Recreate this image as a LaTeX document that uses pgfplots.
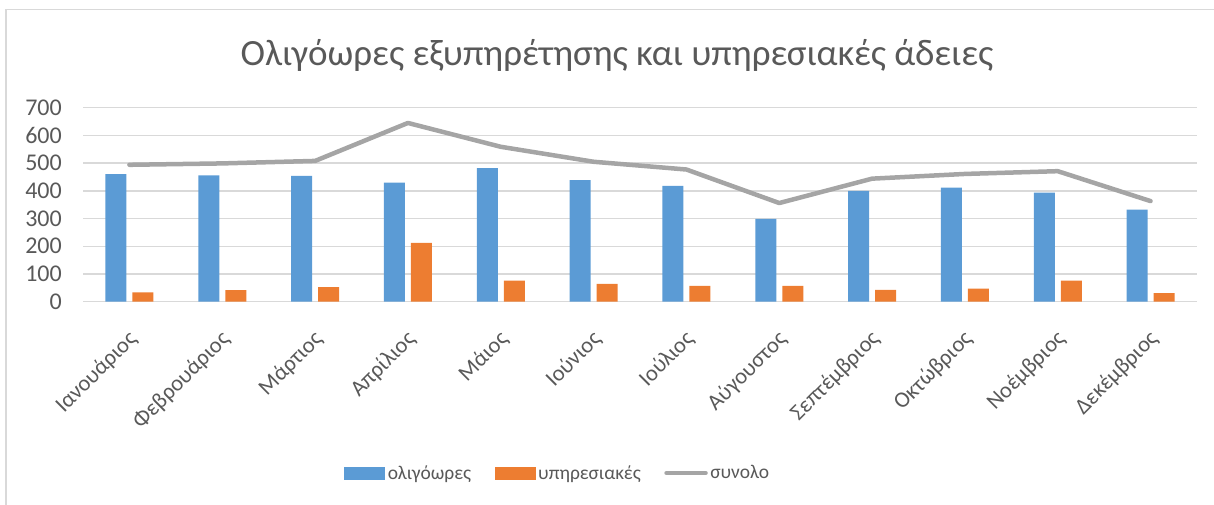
\documentclass[border=0pt]{standalone}
\usepackage{fontspec}
\setmainfont{Carlito}
\usepackage{pgfplots}
\pgfplotsset{compat=1.18}
\definecolor{cblue}{HTML}{5B9BD5}
\definecolor{corange}{HTML}{ED7D31}
\definecolor{cgray}{HTML}{A5A5A5}
\definecolor{ctext}{HTML}{595959}
\definecolor{cgrid}{HTML}{D9D9D9}
\begin{document}
\begin{tikzpicture}[x=1pt,y=1pt]
\useasboundingbox (0,0) rectangle (1214,504);
\draw[cgrid, line width=1.5pt] (6,-2) -- (6,494.5) -- (1216,494.5);
\node[text=ctext, font=\fontsize{37}{44}\selectfont] at (617,449) {Ολιγόωρες εξυπηρέτησης και υπηρεσιακές άδειες};
\begin{axis}[
  at={(83pt,202.3pt)}, anchor=south west,
  width=1114pt, height=194pt, scale only axis,
  xmin=-0.5, xmax=11.5, ymin=0, ymax=700,
  ytick={0,100,...,700},
  xtick={0,...,11},
  xticklabels={Ιανουάριος,Φεβρουάριος,Μάρτιος,Απρίλιος,Μάιος,Ιούνιος,Ιούλιος,Αύγουστος,Σεπτέμβριος,Οκτώβριος,Νοέμβριος,Δεκέμβριος},
  /pgf/number format/assume math mode=true,
  ymajorgrids, grid style={cgrid, line width=1.4pt},
  axis line style={draw=none}, major tick length=0pt,
  tick label style={text=ctext, font=\fontsize{24}{28}\selectfont},
  yticklabel style={inner sep=0pt, xshift=-21pt},
  xticklabel style={font=\fontsize{22.5}{27}\selectfont, inner sep=0pt, xshift=4pt, yshift=-34pt, rotate=45, anchor=east},
  ybar, bar width=21pt,
  legend columns=3,
  legend style={draw=none, at={(0.4264,-0.883)}, anchor=center,
    font=\fontsize{19.5}{23}\selectfont, text=ctext,
    nodes={inner sep=2.5pt},
    /tikz/every even column/.append style={column sep=21pt}},
]
\addplot[fill=cblue, draw=none, bar shift=-13.5pt,
  legend image code/.code={\fill[cblue] (0pt,-6.5pt) rectangle (41pt,6.5pt);}]
  coordinates {(0,460) (1,456) (2,454) (3,430) (4,482) (5,439) (6,418) (7,299) (8,400) (9,412) (10,394) (11,332)};
\addlegendentry{ολιγόωρες}
\addplot[fill=corange, draw=none, bar shift=13.5pt,
  legend image code/.code={\fill[corange] (0pt,-6.5pt) rectangle (41pt,6.5pt);}]
  coordinates {(0,34) (1,42) (2,53) (3,212) (4,76) (5,64) (6,57) (7,57) (8,43) (9,47) (10,76) (11,31)};
\addlegendentry{υπηρεσιακές}
\addplot[sharp plot, cgray, line width=4.5pt, line cap=round, line join=round, mark=none,
  legend image code/.code={\draw[cgray, line width=4.5pt, line cap=round] (2pt,0pt) -- (41pt,0pt);}]
  coordinates {(0,494) (1,499) (2,508) (3,645) (4,559) (5,505) (6,477) (7,356) (8,444) (9,461) (10,471) (11,363)};
\addlegendentry{συνολο}
\end{axis}
\end{tikzpicture}
\end{document}
